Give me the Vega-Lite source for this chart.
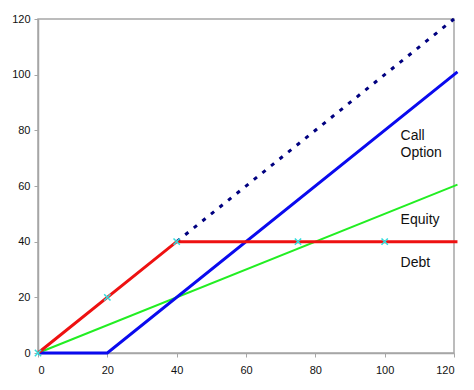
{
  "$schema": "https://vega.github.io/schema/vega-lite/v6.json",
  "width": 416,
  "height": 334,
  "autosize": {"type": "none"},
  "padding": {"left": 38, "top": 19, "right": 20, "bottom": 37},
  "background": "white",
  "config": {
    "view": {"stroke": "#a6a6a6", "strokeWidth": 1.5},
    "axis": {
      "domainColor": "#a6a6a6", "domainWidth": 1.5,
      "tickColor": "#a6a6a6", "tickWidth": 1, "tickSize": 4,
      "labelFont": "Liberation Sans", "labelFontSize": 11, "labelColor": "#111",
      "grid": false, "title": null
    }
  },
  "datasets": {
    "lines": [
      {"series": "Equity", "x": 0, "y": 0},
      {"series": "Equity", "x": 121, "y": 60.5},
      {"series": "Call Option", "x": 0, "y": 0},
      {"series": "Call Option", "x": 20, "y": 0},
      {"series": "Call Option", "x": 121, "y": 101},
      {"series": "Firm Value", "x": 40, "y": 40},
      {"series": "Firm Value", "x": 120, "y": 120},
      {"series": "Debt", "x": 0, "y": 0},
      {"series": "Debt", "x": 40, "y": 40},
      {"series": "Debt", "x": 121, "y": 40}
    ],
    "markers": [
      {"x": 0, "y": 0},
      {"x": 20, "y": 20},
      {"x": 40, "y": 40},
      {"x": 75, "y": 40},
      {"x": 100, "y": 40}
    ],
    "labels": [
      {"label": "Call", "x": 104.6, "y": 76.5},
      {"label": "Option", "x": 104.6, "y": 70.3},
      {"label": "Equity", "x": 104.6, "y": 46.3},
      {"label": "Debt", "x": 104.6, "y": 31}
    ]
  },
  "encoding": {
    "x": {"field": "x", "type": "quantitative", "scale": {"domain": [0, 120], "nice": false, "zero": true},
          "axis": {"values": [0, 20, 40, 60, 80, 100, 120], "labelPadding": 7}},
    "y": {"field": "y", "type": "quantitative", "scale": {"domain": [0, 120], "nice": false, "zero": true},
          "axis": {"values": [0, 20, 40, 60, 80, 100, 120], "labelPadding": 4}}
  },
  "layer": [
    {
      "data": {"name": "lines"},
      "transform": [{"filter": "datum.series === 'Equity'"}],
      "mark": {"type": "line", "color": "#22ee22", "strokeWidth": 2},
      "encoding": {}
    },
    {
      "data": {"name": "lines"},
      "transform": [{"filter": "datum.series === 'Call Option'"}],
      "mark": {"type": "line", "color": "#0a0aee", "strokeWidth": 3},
      "encoding": {}
    },
    {
      "data": {"name": "lines"},
      "transform": [{"filter": "datum.series === 'Firm Value'"}],
      "mark": {"type": "line", "color": "#000080", "strokeWidth": 3, "strokeDash": [4, 7]},
      "encoding": {}
    },
    {
      "data": {"name": "lines"},
      "transform": [{"filter": "datum.series === 'Debt'"}],
      "mark": {"type": "line", "color": "#ee1111", "strokeWidth": 3},
      "encoding": {}
    },
    {
      "data": {"name": "markers"},
      "mark": {"type": "point", "shape": "M-1,-1L1,1M-1,1L1,-1", "filled": false, "color": "#33dddd", "strokeWidth": 1.5, "size": 40, "opacity": 1},
      "encoding": {}
    },
    {
      "data": {"name": "labels"},
      "mark": {"type": "text", "align": "left", "baseline": "alphabetic", "font": "Liberation Sans", "fontSize": 14, "color": "#111"},
      "encoding": {"text": {"field": "label"}}
    }
  ]
}
